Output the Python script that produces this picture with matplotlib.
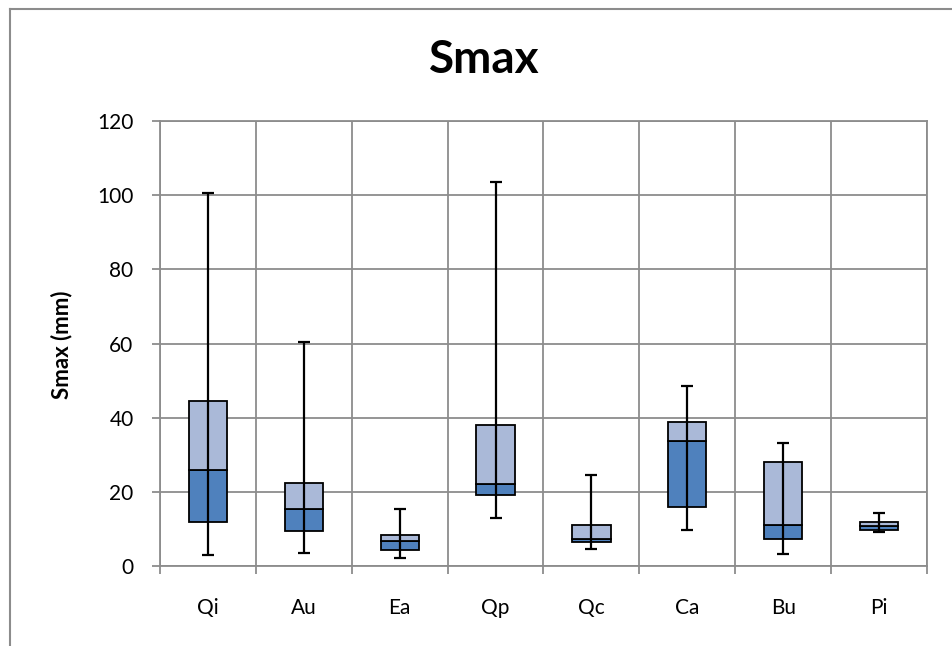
import matplotlib
matplotlib.use("Agg")
import matplotlib.pyplot as plt
from matplotlib.lines import Line2D
import numpy as np

categories = ["Qi", "Au", "Ea", "Qp", "Qc", "Ca", "Bu", "Pi"]
mins    = [3.1, 3.4, 2.2, 12.9, 4.5, 9.7, 3.2, 9.2]
q1      = [11.8, 9.5, 4.3, 19.1, 6.5, 15.8, 7.4, 9.6]
medians = [25.8, 15.4, 6.7, 22.2, 7.3, 33.7, 11.0, 10.8]
q3      = [44.5, 22.4, 8.3, 38.0, 11.1, 38.9, 28.0, 11.9]
maxs    = [100.6, 60.5, 15.5, 103.5, 24.5, 48.6, 33.1, 14.4]
yticks  = [0, 20, 40, 60, 80, 100, 120]

FONT = "Lato"
plt.rcParams["font.family"] = [FONT, "DejaVu Sans"]

W, H = 953, 646
fig = plt.figure(figsize=(W / 100, H / 100), dpi=100)
fig.patch.set_facecolor("white")

L, R, T, B = 160, 927, 121, 566
ax = fig.add_axes([L / W, 1 - B / H, (R - L) / W, (B - T) / H])

grid_c = "#8c8c8c"
dark = "#4f81bd"
light = "#aab9d8"

x = np.arange(len(categories))
q1a, meda, q3a = np.array(q1), np.array(medians), np.array(q3)
ax.bar(x, meda - q1a, bottom=q1a, width=0.4, color=dark, edgecolor="black",
       linewidth=1.3, zorder=3)
ax.bar(x, q3a - meda, bottom=meda, width=0.4, color=light, edgecolor="black",
       linewidth=1.3, zorder=3)
ax.errorbar(x, meda, yerr=[meda - np.array(mins), np.array(maxs) - meda],
            fmt="none", ecolor="black", elinewidth=1.6, capsize=4.4,
            capthick=1.6, zorder=4)

ax.set_xlim(-0.5, len(categories) - 0.5)
ax.set_ylim(0, 120)
ax.set_yticks(yticks)
ax.set_yticklabels([str(v) for v in yticks], fontsize=15)
ax.set_xticks(np.arange(len(categories) + 1) - 0.5)
ax.set_xticklabels([])
ax.set_xticks(x, minor=True)
ax.set_xticklabels(categories, minor=True, fontsize=15)
ax.tick_params(axis="x", which="minor", length=0, pad=23)
ax.tick_params(axis="x", which="major", length=6, width=1.3, color=grid_c, direction="out")
ax.tick_params(axis="y", length=6, width=1.3, color=grid_c, direction="out", pad=13)

ax.grid(True, which="major", color=grid_c, linewidth=1.3, zorder=0)
ax.set_axisbelow(True)
for s in ax.spines.values():
    s.set_color(grid_c)
    s.set_linewidth(1.3)

fig.text(484 / W, 1 - 60 / H, "Smax", ha="center", va="center",
         fontsize=33, fontweight="bold")
fig.text(62 / W, 1 - 345 / H, "Smax (mm)", ha="center", va="center",
         rotation=90, fontsize=16, fontweight="bold")

# chart frame (cropped on right/bottom)
fig.add_artist(Line2D([10 / W, 10 / W], [0, 1 - 9 / H], color=grid_c,
                      linewidth=1.5, transform=fig.transFigure))
fig.add_artist(Line2D([10 / W, 1], [1 - 9 / H, 1 - 9 / H], color=grid_c,
                      linewidth=1.5, transform=fig.transFigure))

fig.savefig("out.png", dpi=100)
